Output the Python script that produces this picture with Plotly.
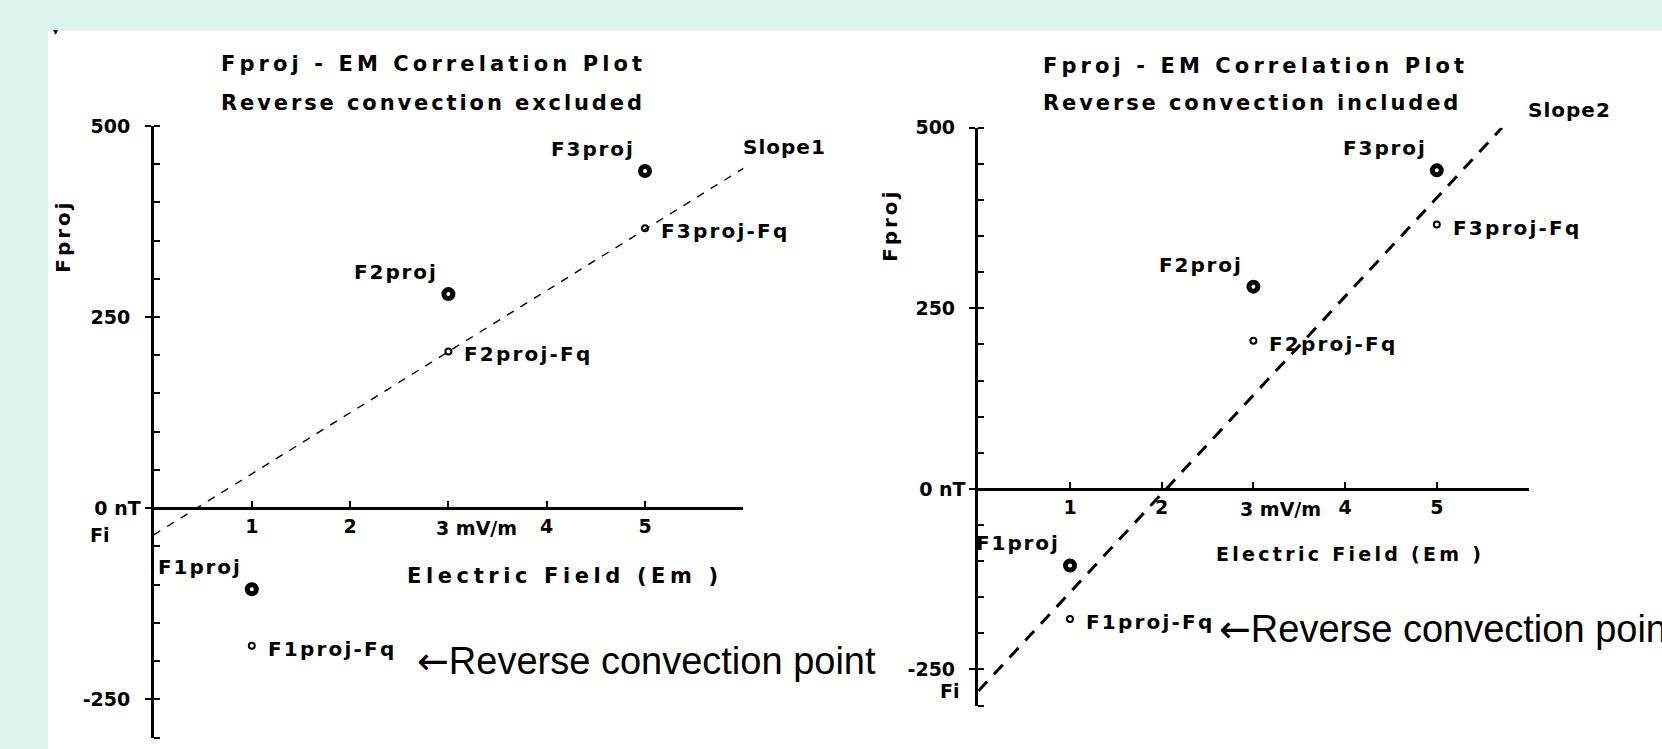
import plotly.graph_objects as go

W, H = 1662, 749
FONT = "DejaVu Sans"
SLIDE_BG = "#dbf4f0"

# ---------------- data ----------------
em_values = [1, 3, 5]                       # Electric field (mV/m)
fproj = [-106, 280, 441]                    # Fproj (nT)
fproj_minus_fq = [-180, 205, 366]           # Fproj - Fq (nT)
proj_labels = ["F1proj", "F2proj", "F3proj"]
fq_labels = ["F1proj-Fq", "F2proj-Fq", "F3proj-Fq"]

slope1_em = [0, 6.07]                       # fit excluding reverse convection
slope1_f = [-35, 450]
slope2_em = [0, 5.71]                       # fit including reverse convection
slope2_f = [-280, 500]
fi_left = -35
fi_right = -280

y_tick_vals = [-250, 0, 250, 500]
y_tick_text = ["-250\u00a0\u2009", "0\u00a0nT", "250\u00a0\u2009", "500\u00a0\u2009"]
x_tick_vals = [1, 2, 3, 4, 5, 6]
x_tick_text = ["1", "2", "", "4", "5", ""]
unit_tick_em = 3
unit_tick_text = "3\u00a0mV/m"

titles_left = ["Fproj - EM Correlation Plot", "Reverse convection excluded"]
titles_right = ["Fproj - EM Correlation Plot", "Reverse convection included"]
x_title = "Electric Field (Em )"
y_title = "Fproj"
note_text = '<span style="font-family:\'DejaVu Sans\'">\u2190</span>Reverse convection point'


def ls(text, px):
    return f'<span style="letter-spacing:{px}px">{text}</span>'


def px_x(p):
    return p / W


def px_y(p):
    return 1 - p / H


fig = go.Figure()

panels = [
    dict(xa="x", ya="y", sx=slope1_em, sy=slope1_f, dash="8px,8px", lw=1.4),
    dict(xa="x2", ya="y2", sx=slope2_em, sy=slope2_f, dash="13px,10px", lw=3),
]
for p in panels:
    fig.add_trace(go.Scatter(x=p["sx"], y=p["sy"], mode="lines", xaxis=p["xa"], yaxis=p["ya"],
                             line=dict(color="black", width=p["lw"], dash=p["dash"]),
                             hoverinfo="skip", showlegend=False))
    fig.add_trace(go.Scatter(x=em_values, y=fproj, mode="markers", xaxis=p["xa"], yaxis=p["ya"],
                             marker=dict(symbol="circle-open", size=9, color="black",
                                         line=dict(color="black", width=5)),
                             cliponaxis=False, showlegend=False))
    fig.add_trace(go.Scatter(x=em_values, y=fproj_minus_fq, mode="markers", xaxis=p["xa"], yaxis=p["ya"],
                             marker=dict(symbol="circle-open", size=6, color="black",
                                         line=dict(color="black", width=2)),
                             cliponaxis=False, showlegend=False))

tickfont = dict(family=FONT, size=19, color="black", weight="bold")

def xaxis_cfg(domain, pos):
    return dict(domain=domain, range=[0, 6], anchor="free", position=pos, side="bottom",
                showline=True, linewidth=3, linecolor="black", showgrid=False, zeroline=False,
                ticks="inside", ticklen=6, tickwidth=2, tickcolor="black",
                tickmode="array", tickvals=x_tick_vals, ticktext=x_tick_text,
                tickfont=tickfont, ticklabelstandoff=0, fixedrange=True)

def yaxis_cfg(domain, anchor):
    return dict(domain=domain, range=[-300, 500], anchor=anchor, side="left",
                showline=True, linewidth=3, linecolor="black", showgrid=False, zeroline=False,
                ticks="outside", ticklen=6, tickwidth=2, tickcolor="black",
                tickmode="array", tickvals=y_tick_vals, ticktext=y_tick_text,
                tickfont=tickfont, ticklabelstandoff=0,
                minor=dict(ticks="inside", ticklen=6, tickwidth=2, tickcolor="black",
                           dtick=50, tick0=0, showgrid=False),
                fixedrange=True)

fig.update_layout(
    width=W, height=H, margin=dict(l=0, r=0, t=0, b=0),
    paper_bgcolor=SLIDE_BG, plot_bgcolor="rgba(0,0,0,0)",
    xaxis=xaxis_cfg([px_x(153.5), px_x(743.3)], px_y(504.6)),
    yaxis=yaxis_cfg([px_y(737.4), px_y(116.6)], "x"),
    xaxis2=xaxis_cfg([px_x(978.3), px_x(1528.5)], px_y(485.0)),
    yaxis2=yaxis_cfg([px_y(704.9), px_y(118.5)], "x2"),
    showlegend=False,
)

# white slide area
fig.add_shape(type="rect", xref="paper", yref="paper", x0=px_x(48), x1=1, y0=0, y1=px_y(20),
              fillcolor="white", line=dict(width=0), layer="below")

ann = []

def bold(size):
    return dict(family=FONT, size=size, color="black", weight="bold")

def add(text, x, y, xref="paper", yref="paper", xanchor="left", yanchor="middle",
        font=None, xshift=0, yshift=0, angle=0):
    ann.append(dict(text=text, x=x, y=y, xref=xref, yref=yref, xanchor=xanchor, yanchor=yanchor,
                    showarrow=False, font=font or bold(20), xshift=xshift, yshift=yshift,
                    textangle=angle))

# titles
add(ls(titles_left[0], 4.1), px_x(219), px_y(54), font=bold(21))
add(ls(titles_left[1], 2.9), px_x(219), px_y(93), font=bold(21))
add(ls(titles_right[0], 4.1), px_x(1041), px_y(56), font=bold(21))
add(ls(titles_right[1], 2.9), px_x(1041), px_y(93), font=bold(21))

# axis titles
add(ls(x_title, 4.6), px_x(405), px_y(573), font=bold(21))
add(ls(x_title, 3.3), px_x(1214), px_y(551), font=bold(19))
add(ls(y_title, 2.9), px_x(63), px_y(228), xanchor="center", angle=-90)
add(ls(y_title, 2.9), px_x(890), px_y(218), xanchor="center", angle=-90)

# slope labels
add(ls("Slope1", 1), px_x(741), px_y(138))
add(ls("Slope2", 1), px_x(1526), px_y(100))

# Fi labels
add("Fi", 0, fi_left, xref="x", yref="y", xanchor="right", xshift=-42, font=bold(19))
add("Fi", 0, fi_right, xref="x2", yref="y2", xanchor="right", xshift=-16, font=bold(19))

# unit tick label
add(unit_tick_text, unit_tick_em, 0, xref="x", yref="y", xanchor="left", xshift=-14, yshift=-20,
    font=bold(19))
add(unit_tick_text, unit_tick_em, 0, xref="x2", yref="y2", xanchor="left", xshift=-15, yshift=-20,
    font=bold(19))

# point labels
for xr, yr in (("x", "y"), ("x2", "y2")):
    for xv, yv, t in zip(em_values, fproj, proj_labels):
        add(ls(t, 1.9), xv, yv, xref=xr, yref=yr, xanchor="right", xshift=-8, yshift=22)
    for xv, yv, t in zip(em_values, fproj_minus_fq, fq_labels):
        add(ls(t, 2.2), xv, yv, xref=xr, yref=yr, xanchor="left", xshift=14, yshift=-3)

# reverse convection notes
note_font = dict(family="Liberation Sans, Arial", size=38, color="black")
add(note_text, px_x(415), px_y(660), font=note_font)
add(note_text, px_x(1217), px_y(627), font=note_font)

# small bullet remnant at top-left
add("\u25be", px_x(55), px_y(21), xanchor="center",
    font=dict(family=FONT, size=10, color="black"))

fig.update_layout(annotations=ann)
fig.write_html("out.html")
